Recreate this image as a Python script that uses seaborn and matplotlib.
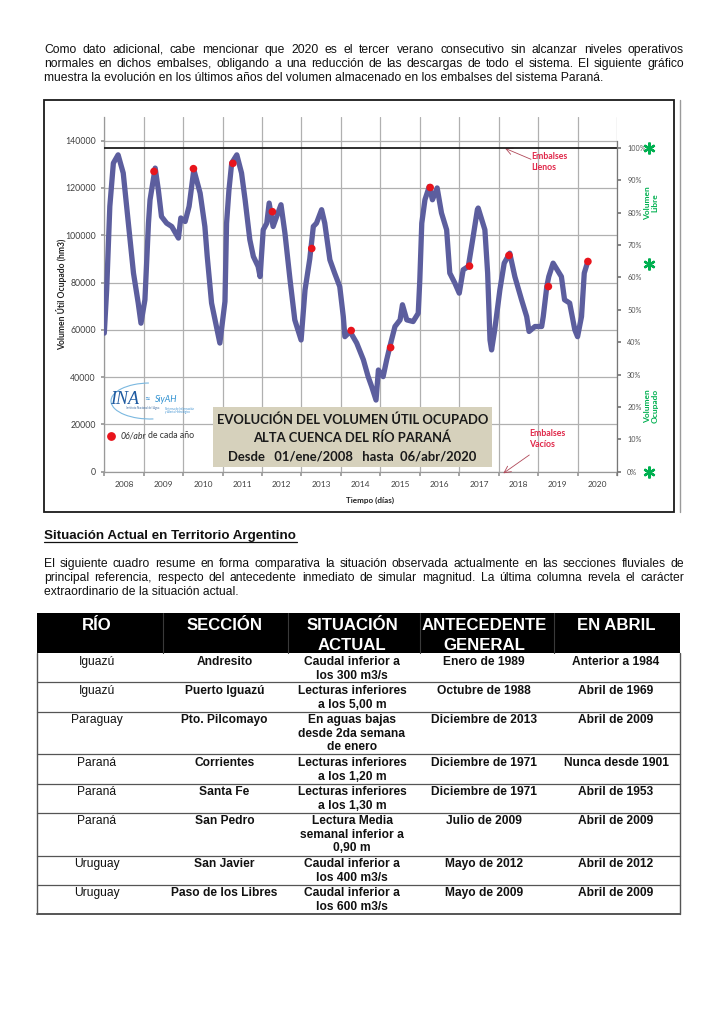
import matplotlib
matplotlib.use("Agg")
import matplotlib.pyplot as plt
import matplotlib.transforms as mtransforms
from matplotlib.patches import Rectangle, Arc
from matplotlib.lines import Line2D
import seaborn as sns
import pandas as pd

# ---------------- data ----------------
t_years = [2008.00, 2008.06, 2008.14, 2008.23, 2008.35, 2008.48, 2008.61, 2008.74, 2008.86, 2008.93,
           2009.03, 2009.12, 2009.16, 2009.29, 2009.37, 2009.45, 2009.58, 2009.71, 2009.88, 2009.94,
           2010.05, 2010.15, 2010.27, 2010.43, 2010.55, 2010.61, 2010.72, 2010.93,
           2011.06, 2011.10, 2011.16, 2011.23, 2011.36, 2011.48, 2011.57, 2011.69, 2011.78, 2011.90, 2011.95,
           2012.03, 2012.12, 2012.18, 2012.28, 2012.37, 2012.48, 2012.58, 2012.71, 2012.83, 2012.99,
           2013.09, 2013.21, 2013.30, 2013.38, 2013.51, 2013.59, 2013.72, 2013.84, 2013.97,
           2014.06, 2014.10, 2014.23, 2014.40, 2014.57, 2014.69, 2014.78, 2014.89, 2014.95,
           2015.07, 2015.16, 2015.24, 2015.37, 2015.50, 2015.56, 2015.67, 2015.83, 2015.96,
           2016.00, 2016.05, 2016.13, 2016.24, 2016.32, 2016.44, 2016.55, 2016.68, 2016.76, 2016.89,
           2017.00, 2017.10, 2017.23, 2017.34, 2017.46, 2017.48, 2017.65, 2017.72, 2017.78, 2017.82, 2017.90,
           2018.03, 2018.14, 2018.28, 2018.41, 2018.58, 2018.71, 2018.77, 2018.92,
           2019.09, 2019.13, 2019.22, 2019.27, 2019.38, 2019.59, 2019.67, 2019.80, 2019.93,
           2020.00, 2020.10, 2020.17, 2020.26]
vol_hm3 = [58600, 76900, 112200, 130500, 134000, 126300, 105100, 84000, 71300, 62800,
           72700, 105100, 115000, 128400, 119200, 107900, 105100, 103700, 98800, 107300,
           105800, 112200, 127700, 117800, 103700, 91000, 71300, 54400,
           72000, 105000, 119000, 130500, 134000, 126300, 115000, 98100, 91000, 86800, 82500,
           102300, 105100, 113600, 103700, 107900, 112900, 100900, 81100, 64200, 55700,
           76900, 90000, 103700, 105100, 110800, 105100, 89600, 84000, 78300,
           65600, 57100, 59300, 54400, 47300, 40200, 36000, 30300, 43000,
           40200, 47300, 52900, 61400, 64200, 70600, 64200, 63500, 67000,
           81100, 105100, 115000, 120600, 115000, 120000, 109400, 102300, 84000, 79700,
           75500, 85400, 86800, 98100, 110800, 111500, 102300, 84000, 55700, 51500, 60000,
           76900, 88200, 92400, 82500, 72700, 65600, 59300, 61400,
           61400, 65600, 78300, 82500, 88200, 82500, 72700, 71300, 60000,
           57100, 65600, 84000, 88900]

abr_dates = ["2009-04-06", "2010-04-06", "2011-04-06", "2012-04-06", "2013-04-06", "2014-04-06",
             "2015-04-06", "2016-04-06", "2017-04-06", "2018-04-06", "2019-04-06", "2020-04-06"]
abr_vol = [127000, 128150, 130400, 109950, 94400, 59700, 52500, 120200, 86950, 91450, 78300, 88900]

capacity_hm3 = 137000
year_labels = list(range(2008, 2021))
left_ticks = list(range(0, 140001, 20000))
right_ticks = list(range(0, 101, 10))
star_pct = [100, 64, 0]

para1 = ["Como dato adicional, cabe mencionar que 2020 es el tercer verano consecutivo sin alcanzar niveles operativos",
         "normales en dichos embalses, obligando a una reducción de las descargas de todo el sistema. El siguiente gráfico",
         "muestra la evolución en los últimos años del volumen almacenado en los embalses del sistema Paraná."]
heading = "Situación Actual en Territorio Argentino"
para2 = ["El siguiente cuadro resume en forma comparativa la situación observada actualmente en las secciones fluviales de",
         "principal referencia, respecto del antecedente inmediato de simular magnitud. La última columna revela el carácter",
         "extraordinario de la situación actual."]

title_lines = ["EVOLUCIÓN DEL VOLUMEN ÚTIL OCUPADO", "ALTA CUENCA DEL RÍO PARANÁ",
               "Desde   01/ene/2008   hasta  06/abr/2020"]

col_headers = ["RÍO", "SECCIÓN", "SITUACIÓN\nACTUAL", "ANTECEDENTE\nGENERAL", "EN ABRIL"]
rio = ["Iguazú", "Iguazú", "Paraguay", "Paraná", "Paraná", "Paraná", "Uruguay", "Uruguay"]
seccion = ["Andresito", "Puerto Iguazú", "Pto. Pilcomayo", "Corrientes", "Santa Fe", "San Pedro",
           "San Javier", "Paso de los Libres"]
situacion = ["Caudal inferior a\nlos 300 m3/s", "Lecturas inferiores\na los 5,00 m",
             "En aguas bajas\ndesde 2da semana\nde enero", "Lecturas inferiores\na los 1,20 m",
             "Lecturas inferiores\na los 1,30 m", "Lectura Media\nsemanal inferior a\n0,90 m",
             "Caudal inferior a\nlos 400 m3/s", "Caudal inferior a\nlos 600 m3/s"]
antecedente = ["Enero de 1989", "Octubre de 1988", "Diciembre de 2013", "Diciembre de 1971",
               "Diciembre de 1971", "Julio de 2009", "Mayo de 2012", "Mayo de 2009"]
en_abril = ["Anterior a 1984", "Abril de 1969", "Abril de 2009", "Nunca desde 1901",
            "Abril de 1953", "Abril de 2009", "Abril de 2012", "Abril de 2009"]

# ---------------- setup ----------------
W, H = 725, 1024
sns.set_theme(style="white")
plt.rcParams['font.family'] = ['Lato', 'DejaVu Sans']
fig = plt.figure(figsize=(W / 100, H / 100), dpi=100)
fig.patch.set_facecolor("white")
R = fig.canvas.get_renderer()


def fx(x):
    return x / W


def fy(y):
    return 1 - y / H


def twidth(s, size, **kw):
    t = fig.text(0, 0, s, fontsize=size, **kw)
    w = t.get_window_extent(R).width
    t.remove()
    return w


def fit(s, target, **kw):
    return 10 * target / twidth(s, 10, **kw)


SANS = ['Liberation Sans', 'DejaVu Sans']
CAL = ['Lato', 'DejaVu Sans']
SERIES = "#5c5e9e"
RED = "#e8141c"
GREEN = "#00b050"

# ---------------- page text ----------------
psize = fit(para1[2], 559, family=SANS)


def place_line(text, x0, x1, y, size, justify, **kw):
    if not justify:
        fig.text(fx(x0), fy(y), text, fontsize=size, va='baseline', ha='left', **kw)
        return
    words = text.split()
    ts = [fig.text(0, fy(y), w, fontsize=size, va='baseline', ha='left', **kw) for w in words]
    ws = [t.get_window_extent(R).width for t in ts]
    gap = (x1 - x0 - sum(ws)) / (len(words) - 1)
    x = x0
    for t, w in zip(ts, ws):
        t.set_x(fx(x))
        x += w + gap


for i, line in enumerate(para1):
    place_line(line, 44, 684, 53 + 14 * i, psize, i < 2, family=SANS, color="#111111")
for i, line in enumerate(para2):
    place_line(line, 44, 684, 567 + 14 * i, psize, i < 2, family=SANS, color="#111111")

hsize = fit(heading, 253, family=SANS, weight='bold')
fig.text(fx(44), fy(539.5), heading, fontsize=hsize, family=SANS, weight='bold',
         va='baseline', ha='left', color="#111111")
fig.add_artist(Line2D([fx(44), fx(297)], [fy(542), fy(542)], transform=fig.transFigure,
                      color="#111111", lw=0.9))

# ---------------- chart ----------------
ax = fig.add_axes([fx(104.3), fy(471.7), (617 - 104.3) / W, (471.7 - 117) / H])
ax.set_facecolor("white")
ax.set_xlim(2008, 2021)
ax.set_ylim(0, 150000)
ax.set_xticks(list(range(2008, 2022)))
ax.set_xticklabels([])
ax.set_xticks([y + 0.5 for y in year_labels], minor=True)
ax.set_xticklabels([str(y) for y in year_labels], minor=True)
ax.set_yticks(left_ticks)
ax.set_yticklabels([str(v) for v in left_ticks])
ax.grid(True, which='major', color="#b0b0b0", lw=0.9)
ax.tick_params(axis='x', which='major', length=3, color="#999999", direction='out', bottom=True)
ax.tick_params(axis='x', which='minor', length=0, pad=6.5, labelsize=6.0, labelcolor="#404040", bottom=True)
ax.tick_params(axis='y', length=2.5, color="#999999", direction='out', pad=3.5, labelsize=6.3,
               labelcolor="#404040", left=True)
for s in ['top', 'right']:
    ax.spines[s].set_visible(False)
for s in ['left', 'bottom']:
    ax.spines[s].set_color("#999999")
    ax.spines[s].set_linewidth(0.9)

df = pd.DataFrame({"t": t_years, "vol": vol_hm3})
sns.lineplot(data=df, x="t", y="vol", ax=ax, color=SERIES, lw=3.8, zorder=3)
ax.axhline(capacity_hm3, color="#1e1e1e", lw=1.3, zorder=4)

abr_dt = pd.to_datetime(pd.Series(abr_dates))
abr_t = abr_dt.dt.year + (abr_dt.dt.dayofyear - 1) / (365 + abr_dt.dt.is_leap_year.astype(int))
dfa = pd.DataFrame({"t": abr_t, "vol": abr_vol})
sns.scatterplot(data=dfa, x="t", y="vol", ax=ax, color=RED, s=30, edgecolor="none", zorder=5)
ax.set_xlabel("")
ax.set_ylabel("")

ax2 = ax.twinx()
ax2.set_ylim(0, 150000 / capacity_hm3 * 100)
ax2.set_yticks(right_ticks)
ax2.set_yticklabels([f"{v}%" for v in right_ticks])
ax2.tick_params(axis='y', length=3, color="#777777", direction='out', pad=4.3, labelsize=5.2,
                labelcolor="#555555", right=True)
ax2.grid(False)
for s in ['top', 'left', 'bottom']:
    ax2.spines[s].set_visible(False)
ax2.spines['right'].set_color("#777777")
ax2.spines['right'].set_linewidth(0.9)
ax2.spines['right'].set_bounds(-1, 102)

blend = mtransforms.blended_transform_factory(fig.transFigure, ax2.transData)
ax2.plot([fx(648.5)] * len(star_pct), star_pct, transform=blend, ls='none', marker=(6, 2, 0),
         ms=8.5, mew=1.7, color=GREEN, clip_on=False)
fig.text(fx(651), fy(203), "Volumen\nLibre", rotation=90, ha='center', va='center', fontsize=6,
         weight='bold', color=GREEN, linespacing=1.05)
fig.text(fx(651), fy(406), "Volumen\nOcupado", rotation=90, ha='center', va='center', fontsize=6,
         weight='bold', color=GREEN, linespacing=1.05)

fig.text(fx(62), fy(294), "Volumen Útil Ocupado (hm3)", rotation=90, ha='center', va='center',
         fontsize=6.2, weight='bold', color="#222222")
fig.text(fx(370), fy(500), "Tiempo (días)", ha='center', va='center', fontsize=5.9,
         weight='bold', color="#222222")

# annotations
ann_kw = dict(xycoords='figure pixels', textcoords='figure pixels',
              arrowprops=dict(arrowstyle='->', color="#b04858", lw=0.6, shrinkA=0, shrinkB=0))
ax.annotate("", xy=(505, H - 148.3), xytext=(531, H - 159.3), **ann_kw)
ax.annotate("", xy=(503.3, H - 473.3), xytext=(529.3, H - 455), **ann_kw)
fig.text(fx(531.7), fy(159.3), "Embalses\nLlenos", ha='left', va='top', fontsize=6.3,
         weight='bold', color="#e0284a", linespacing=1.3,
         transform=mtransforms.offset_copy(fig.transFigure, fig=fig, y=5, units='points'))
fig.text(fx(529.3), fy(436), "Embalses\nVacíos", ha='left', va='top', fontsize=6.3,
         weight='bold', color="#e0284a", linespacing=1.3,
         transform=mtransforms.offset_copy(fig.transFigure, fig=fig, y=5, units='points'))

# title box
fig.add_artist(Rectangle((fx(212.7), fy(466.7)), (492.3 - 212.7) / W, (466.7 - 407) / H,
                         transform=fig.transFigure, facecolor="#d6d1bc", edgecolor="none", zorder=6))
tsize = fit(title_lines[0], 272.6, family=CAL, weight='bold')
for yy, line in zip([419.3, 437.3, 456.7], title_lines):
    fig.text(fx(352.5), fy(yy), line, ha='center', va='center', fontsize=tsize, weight='bold',
             family=CAL, color="#1a1a1a", zorder=7)

# logo
fig.text(fx(110), fy(400), "INA", ha='left', va='center', fontsize=13, style='italic',
         family=['Liberation Serif', 'DejaVu Serif'], color="#1e5aa0")
fig.text(fx(147), fy(399.5), "≈", ha='center', va='center', fontsize=7, color="#3a8fd0")
fig.text(fx(155), fy(399), "SiyAH", ha='left', va='center', fontsize=6.3, style='italic',
         color="#2b8fd0")
fig.text(fx(126), fy(408.5), "Instituto Nacional del Agua", ha='left', va='center', fontsize=2.0,
         color="#3a6aa0")
fig.text(fx(165), fy(410.5), "Sistema de Información\ny Alerta Hidrológico", ha='left', va='center',
         fontsize=2.0, color="#3a8fd0", linespacing=1.0)
fig.add_artist(Arc((fx(150), fy(401)), 78 / W, 36 / H, theta1=95, theta2=285,
                   transform=fig.transFigure, color="#7ab8e0", lw=0.8))

# legend
fig.add_artist(Line2D([fx(111)], [fy(435.7)], transform=fig.transFigure, marker='o', ms=5.3,
                      color=RED, ls='none'))
t1 = fig.text(fx(120.7), fy(435.7), "06/abr", ha='left', va='center', fontsize=6.3, style='italic',
              color="#333333")
w1 = t1.get_window_extent(R).width
fig.text(fx(120.7 + w1 + 2.2), fy(435.7), "de cada año", ha='left', va='center', fontsize=6.3,
         color="#333333")

# chart frame
fig.add_artist(Rectangle((fx(44), fy(512)), (674 - 44) / W, (512 - 100) / H, transform=fig.transFigure,
                         fill=False, edgecolor="#1a1a1a", lw=1.3))
fig.add_artist(Line2D([fx(680), fx(680)], [fy(100), fy(512)], transform=fig.transFigure,
                      color="#9a9a9a", lw=1.0))

# ---------------- table ----------------
col_x = [37, 163, 288, 420, 554, 680]
col_c = [97, 224.5, 352, 484, 616]
head_top, head_bot = 612.7, 653.3
fig.add_artist(Rectangle((fx(col_x[0]), fy(head_bot)), (col_x[-1] - col_x[0]) / W,
                         (head_bot - head_top) / H, transform=fig.transFigure,
                         facecolor="black", edgecolor="none"))
for xv in col_x[1:-1]:
    fig.add_artist(Line2D([fx(xv), fx(xv)], [fy(head_top), fy(head_bot)], transform=fig.transFigure,
                          color="#3a3a3a", lw=0.8))
hdr_size = fit("ANTECEDENTE", 125, family=SANS, weight='bold')
for c, h in zip(col_c, col_headers):
    for j, part in enumerate(h.split("\n")):
        fig.text(fx(c), fy(630 + 19.5 * j), part, ha='center', va='baseline', fontsize=hdr_size,
                 family=SANS, weight='bold', color="white")

body_size = fit("Nunca desde 1901", 105, family=SANS, weight='bold')
columns = [rio, seccion, situacion, antecedente, en_abril]
top = head_bot
line_c = "#555555"
for r in range(len(rio)):
    cells = [col[r] for col in columns]
    n = max(c.count("\n") + 1 for c in cells)
    hgt = 13.8 * n + 1.5
    for k, (c, txt) in enumerate(zip(col_c, cells)):
        for j, part in enumerate(txt.split("\n")):
            fig.text(fx(c), fy(top + 11.8 + 13.5 * j), part, ha='center', va='baseline',
                     fontsize=body_size, family=SANS, weight='normal' if k == 0 else 'bold',
                     color="#111111")
    top += hgt
    fig.add_artist(Line2D([fx(col_x[0]), fx(col_x[-1])], [fy(top), fy(top)], transform=fig.transFigure,
                          color=line_c, lw=1.4 if r == len(rio) - 1 else 0.9))
for xv in [col_x[0], col_x[-1]]:
    fig.add_artist(Line2D([fx(xv), fx(xv)], [fy(head_bot), fy(top)], transform=fig.transFigure,
                          color=line_c, lw=1.0))

fig.savefig("out.png", dpi=100, facecolor="white")
